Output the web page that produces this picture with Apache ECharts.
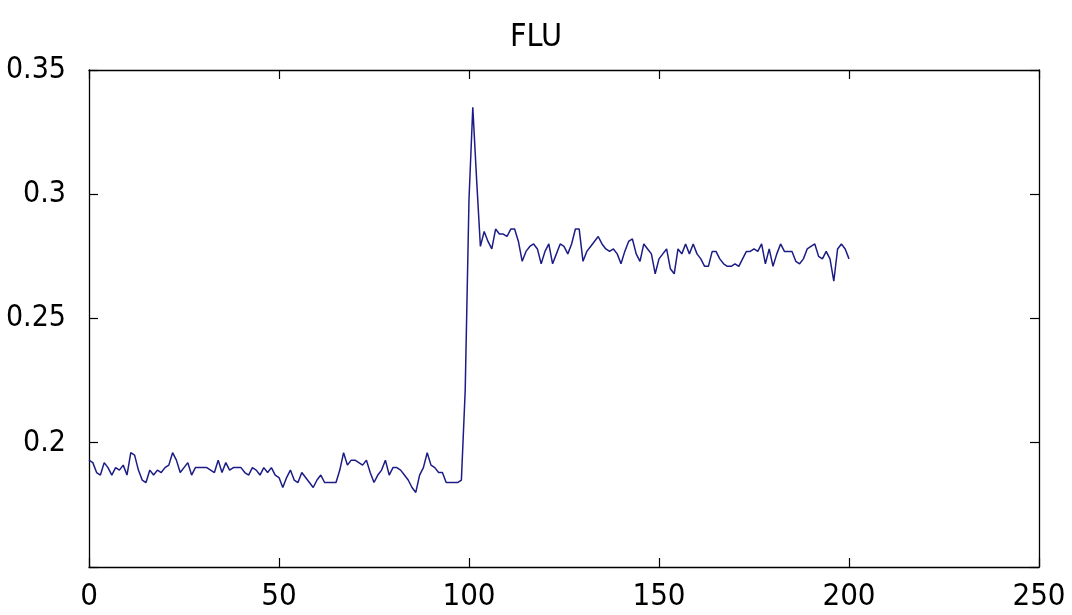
<!DOCTYPE html>
<html>
<head>
<meta charset="utf-8">
<script src="https://cdn.jsdelivr.net/npm/echarts@6/dist/echarts.min.js"></script>
<style>
html,body{margin:0;padding:0;background:#fff;}
#chart{width:1072px;height:615px;}
</style>
</head>
<body>
<div id="chart"></div>
<script>
var title = 'FLU';
var xTicks = [0, 50, 100, 150, 200, 250];
var yTicks = [0.15, 0.2, 0.25, 0.3, 0.35];
// x = 0..98 : low regime
var lowValues = [0.193,
  0.192,0.188,0.187,0.192,0.190,0.187,0.190,0.189,0.191,0.187,
  0.196,0.195,0.189,0.185,0.184,0.189,0.187,0.189,0.188,0.190,
  0.191,0.196,0.193,0.188,0.190,0.192,0.187,0.190,0.190,0.190,
  0.190,0.189,0.188,0.193,0.188,0.192,0.189,0.190,0.190,0.190,
  0.188,0.187,0.190,0.189,0.187,0.190,0.188,0.190,0.187,0.186,
  0.182,0.186,0.189,0.185,0.184,0.188,0.186,0.184,0.182,0.185,
  0.187,0.184,0.184,0.184,0.184,0.189,0.196,0.191,0.193,0.193,
  0.192,0.191,0.193,0.188,0.184,0.187,0.189,0.193,0.187,0.190,
  0.190,0.189,0.187,0.185,0.182,0.180,0.187,0.190,0.196,0.191,
  0.190,0.188,0.188,0.184,0.184,0.184,0.184,0.185];
// x = 99..102 : transition
var jumpValues = [0.221, 0.298, 0.335, 0.306];
// x = 103..200 : high regime
var highValues = [
  0.279,0.285,0.281,0.278,0.286,0.284,0.284,0.283,0.286,0.286,
  0.281,0.273,0.277,0.279,0.280,0.278,0.272,0.277,0.280,0.272,
  0.276,0.280,0.279,0.276,0.280,0.286,0.286,0.273,0.277,0.279,
  0.281,0.283,0.280,0.278,0.277,0.278,0.276,0.272,0.277,0.281,
  0.282,0.276,0.273,0.280,0.278,0.276,0.268,0.274,0.276,0.278,
  0.270,0.268,0.278,0.276,0.280,0.276,0.280,0.276,0.274,0.271,
  0.271,0.277,0.277,0.274,0.272,0.271,0.271,0.272,0.271,0.274,
  0.277,0.277,0.278,0.277,0.280,0.272,0.278,0.271,0.276,0.280,
  0.277,0.277,0.277,0.273,0.272,0.274,0.278,0.279,0.280,0.275,
  0.274,0.277,0.274,0.265,0.278,0.280,0.278,0.274];

var values = lowValues.concat(jumpValues, highValues);
var seriesData = values.map(function (v, i) { return [i, v]; });

var FONT = '"DejaVu Sans Condensed", "Liberation Sans", Arial, sans-serif';
var chart = echarts.init(document.getElementById('chart'), null, {renderer: 'canvas'});

function yFmt(v) {
  if (Math.abs(v - yTicks[0]) < 1e-9) return '';
  return String(+v.toFixed(2));
}
var axisLine = {show: true, onZero: false, lineStyle: {color: '#000', width: 1.3}};
var tick = {show: true, inside: true, length: 9, lineStyle: {color: '#000', width: 1.2}};

chart.setOption({
  backgroundColor: '#fff',
  animation: false,
  title: {
    text: title, left: 'center', top: 17,
    textStyle: {fontFamily: FONT, fontSize: 32, fontWeight: 'normal', color: '#000'}
  },
  grid: {left: 89, right: 33, top: 70, bottom: 48, containLabel: false},
  xAxis: [{
    type: 'value', position: 'bottom', min: xTicks[0], max: xTicks[xTicks.length - 1], interval: 50,
    axisLine: axisLine, axisTick: tick, splitLine: {show: false},
    axisLabel: {fontFamily: FONT, fontSize: 31, color: '#000', margin: 14}
  }, {
    type: 'value', position: 'top', min: xTicks[0], max: xTicks[xTicks.length - 1], interval: 50,
    axisLine: axisLine, axisTick: tick, splitLine: {show: false}, axisLabel: {show: false}
  }],
  yAxis: [{
    type: 'value', position: 'left', min: yTicks[0], max: yTicks[yTicks.length - 1], interval: 0.05,
    axisLine: axisLine, axisTick: tick, splitLine: {show: false},
    axisLabel: {fontFamily: FONT, fontSize: 30, color: '#000', margin: 23, formatter: yFmt}
  }, {
    type: 'value', position: 'right', min: yTicks[0], max: yTicks[yTicks.length - 1], interval: 0.05,
    axisLine: axisLine, axisTick: tick, splitLine: {show: false}, axisLabel: {show: false}
  }],
  series: [{
    type: 'line', data: seriesData, xAxisIndex: 0, yAxisIndex: 0,
    showSymbol: false, symbol: 'none',
    lineStyle: {color: '#1c1c86', width: 1.5},
    silent: true
  }]
});
</script>
</body>
</html>
